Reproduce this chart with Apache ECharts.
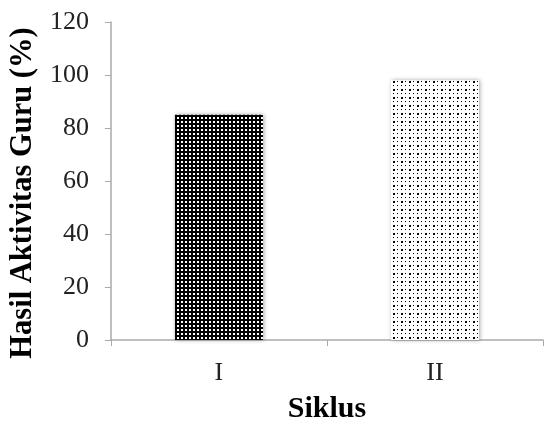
<!DOCTYPE html>
<html>
<head>
<meta charset="utf-8">
<script src="https://cdn.jsdelivr.net/npm/echarts@6/dist/echarts.min.js"></script>
<style>
  html, body { margin: 0; padding: 0; background: #fff; }
  #chart { width: 545px; height: 429px; }
</style>
</head>
<body>
<div id="chart"></div>
<script>
// data
var categories = ["I", "II"];
var values = [85, 98];
var yTicks = [0, 20, 40, 60, 80, 100, 120];

// dotted fills like the original print patterns
function makePattern(bg, fg, size, dots) {
  var c = document.createElement("canvas");
  c.width = size;
  c.height = size;
  var ctx = c.getContext("2d");
  ctx.fillStyle = bg;
  ctx.fillRect(0, 0, size, size);
  ctx.fillStyle = fg;
  dots.forEach(function (d) {
    ctx.fillRect(d[0], d[1], d[2], d[3]);
  });
  return c;
}

var darkPat = makePattern("#000", "#fff", 4, [[1, 1, 2, 2]]);
var lightPat = makePattern("#fff", "#000", 8, [[1, 1, 2, 2], [5, 5, 1, 1], [5, 1, 1, 1], [1, 5, 1, 1]]);

var myChart = echarts.init(document.getElementById("chart"));

var option = {
  animation: false,
  grid: {
    left: 106,
    right: 2,
    top: 22,
    bottom: 86,
  },
  xAxis: {
    type: "category",
    data: categories,
    name: "Siklus",
    nameLocation: "middle",
    nameGap: 54,
    nameTextStyle: {
      fontFamily: "Liberation Serif",
      fontWeight: "bold",
      fontSize: 30,
      color: "#000",
    },
    axisLine: { lineStyle: { color: "#aaa", width: 1.5 } },
    axisTick: { show: true, length: 6, lineStyle: { color: "#aaa" } },
    axisLabel: {
      fontFamily: "Liberation Serif",
      fontSize: 26,
      color: "#222",
      margin: 20,
    },
  },
  yAxis: {
    type: "value",
    min: yTicks[0],
    max: yTicks[yTicks.length - 1],
    interval: 20,
    name: "Hasil Aktivitas Guru (%)",
    nameLocation: "middle",
    nameGap: 68,
    nameTextStyle: {
      fontFamily: "Liberation Serif",
      fontWeight: "bold",
      fontSize: 30.5,
      color: "#000",
      padding: [0, 24, 0, 0],
    },
    axisLine: { show: true, lineStyle: { color: "#aaa", width: 1.5 } },
    axisTick: { show: true, length: 6, lineStyle: { color: "#aaa" } },
    splitLine: { show: false },
    axisLabel: {
      fontFamily: "Liberation Serif",
      fontSize: 26,
      color: "#222",
      margin: 22,
    },
  },
  series: [
    {
      type: "bar",
      barWidth: 88,
      data: [
        {
          value: values[0],
          itemStyle: { color: { image: darkPat, repeat: "repeat" } },
        },
        {
          value: values[1],
          itemStyle: { color: { image: lightPat, repeat: "repeat" } },
        },
      ],
      itemStyle: {
        shadowColor: "rgba(0,0,0,0.35)",
        shadowBlur: 4,
        shadowOffsetX: 1,
      },
    },
  ],
};
myChart.setOption(option);
</script>
</body>
</html>
